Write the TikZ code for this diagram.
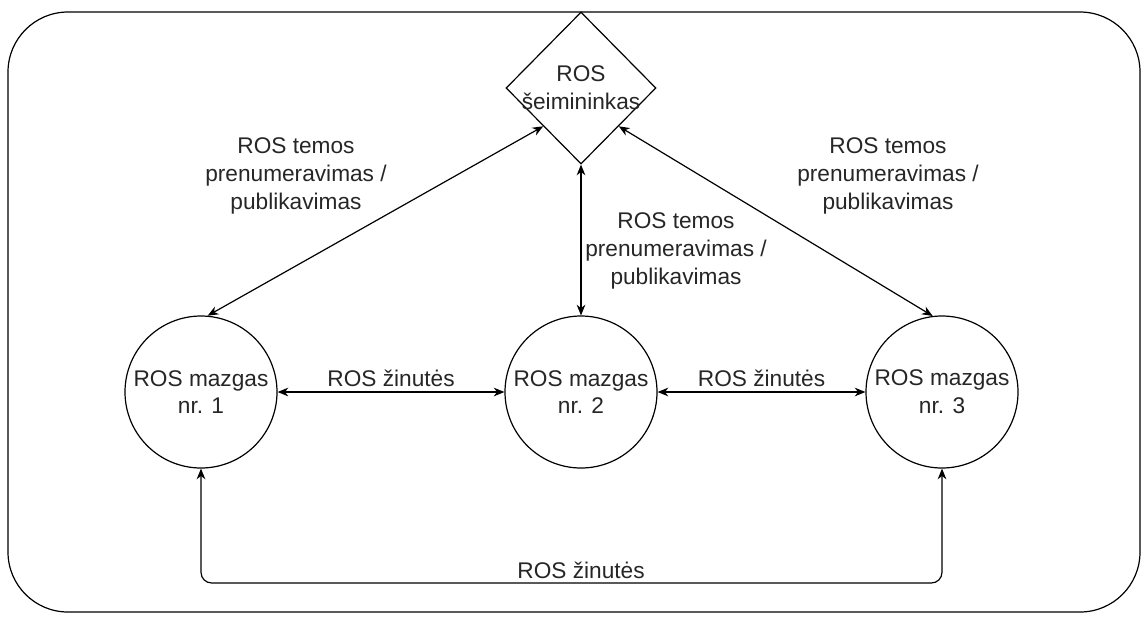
\documentclass[tikz,border=0pt]{standalone}
\usepackage{fontspec}
\setmainfont{Liberation Sans}
\usepackage{tikz}
\usetikzlibrary{arrows,arrows.meta,shapes.geometric,positioning,calc}
\tikzset{>={Stealth[length=8pt,width=6.5pt,inset=2.5pt]},
          texto/.style={font=\fontsize{17}{20.8}\selectfont,text=black!85},
          nodo/.style={
            circle,draw=black,line width=0.9pt,
            minimum size=114pt,inner sep=0pt,
            align=center,texto
          },
          seim/.style={
            diamond,draw=black,line width=0.9pt,
            minimum width=112.5pt,minimum height=114pt,inner sep=0pt,
            align=center,texto
          },
          rysys/.style={<->,line width=0.9pt}
        }
\newcommand\TemaText[2]{%
          \node[texto,align=center] (#1)
          at (#2)
          {ROS temos\\prenumeravimas /\\publikavimas};
        }

\begin{document}
\begin{tikzpicture}[x=0.75pt,y=-0.75pt]
            \useasboundingbox (0,0) rectangle (1148,619);
            \draw[line width=0.9pt,rounded corners=45pt] (8,12) rectangle (1140,612);

            \node[seim] (own) at (581,88) {ROS\\\makebox[0pt]{šeimininkas}};
            \node[nodo] (n1) at (201,392) {ROS mazgas\\nr. 1};
            \node[nodo] (n2) at (581,392) {ROS mazgas\\nr. 2};
            \node[nodo] (n3) at (942,392) {ROS mazgas\\nr. 3};

            \draw[rysys] (own.south west) -- (n1.85);
            \draw[rysys] (own.south) -- (n2.north);
            \draw[rysys] (own.south east) -- (n3.97);

            \TemaText{tema1}{296,176}
            \TemaText{tema2}{676,251}
            \TemaText{tema3}{888,176}

            \draw[rysys] (n1.east) -- node[texto,above] (zin12) {ROS žinutės} (n2.west);
            \draw[rysys] (n2.east) -- node[texto,above] (zin23) {ROS žinutės} (n3.west);

            \coordinate (apac) at (581,583);
            \draw[rysys,rounded corners=8pt] (n1.south) |- (apac) -| (n3.south);
            \node[texto,above] (zin13) at (apac) {ROS žinutės};
          \end{tikzpicture}
\end{document}
